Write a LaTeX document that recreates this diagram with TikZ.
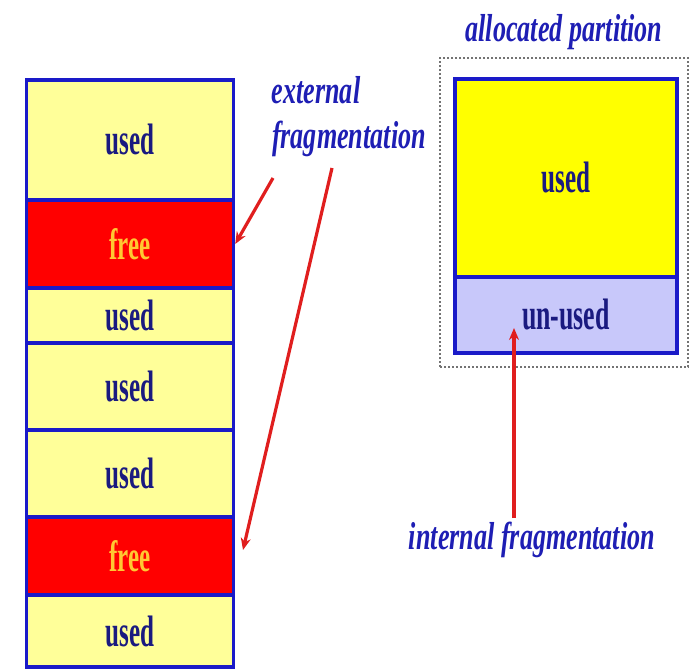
\documentclass[tikz,border=0pt]{standalone}
\usepackage{fontspec}
\usepackage{graphicx}
\setmainfont{Liberation Serif}
\usetikzlibrary{arrows.meta,calc}
\definecolor{paleyel}{HTML}{FFFF99}
\definecolor{brightyel}{HTML}{FFFF00}
\definecolor{freered}{HTML}{FF0000}
\definecolor{lav}{HTML}{C8C8FA}
\definecolor{edgeblue}{HTML}{1A1AC8}
\definecolor{navytext}{HTML}{1A1A80}
\definecolor{labblue}{HTML}{1E1EB4}
\definecolor{freetext}{HTML}{FFC832}
\definecolor{arrred}{HTML}{E01E1E}
\newcommand{\blocktxt}[1]{{\fontsize{44}{44}\selectfont\bfseries\scalebox{0.57}[1]{#1}}}
\newcommand{\labtxt}[1]{{\fontsize{39}{39}\selectfont\bfseries\itshape\scalebox{0.67}[1]{#1}}}
\tikzset{
  blk/.style={draw=edgeblue, line width=3.5pt, inner sep=0pt, minimum width=207pt},
  usedblk/.style={blk, fill=paleyel, text=navytext},
  freeblk/.style={blk, fill=freered, text=freetext},
  lab/.style={text=labblue, inner sep=0pt},
  redarrow/.style={draw=arrred, line width=3.2pt, -{Stealth[length=12pt,width=10pt]}},
}
\begin{document}
\begin{tikzpicture}[x=1pt,y=-1pt]
\useasboundingbox (0,0) rectangle (691,669);
% left column
\node[usedblk, minimum height=120pt] (u1) at (130,140) {\blocktxt{used}};
\node[freeblk, minimum height=88pt] (f1) at (130,244) {\blocktxt{free}};
\node[usedblk, minimum height=55pt] (u2) at (130,315.5) {\blocktxt{used}};
\node[usedblk, minimum height=87pt] (u3) at (130,386.5) {\blocktxt{used}};
\node[usedblk, minimum height=87pt] (u4) at (130,473.5) {\blocktxt{used}};
\node[freeblk, minimum height=78pt] (f2) at (130,556) {\blocktxt{free}};
\node[usedblk, minimum height=72pt] (u5) at (130,631) {\blocktxt{used}};
% right partition
\node[draw=black!55, line width=2.5pt, dash pattern=on 2pt off 2pt, minimum width=248pt, minimum height=309pt, inner sep=0pt] (part) at (564,212.5) {};
\node[draw=edgeblue, line width=3.5pt, fill=brightyel, text=navytext, minimum width=222pt, minimum height=198pt, inner sep=0pt] (pu) at (566,178) {\blocktxt{used}};
\node[draw=edgeblue, line width=3.5pt, fill=lav, text=navytext, minimum width=222pt, minimum height=76pt, inner sep=0pt] (pn) at (566,315) {\scalebox{1.03}[1]{\blocktxt{un-used}}};
% labels
\node[lab] (palloc) at (564,32) {\labtxt{allocated partition}};
\node[lab] (ext1) at (316,90) {\labtxt{external}};
\node[lab] (ext2) at (349,139) {\labtxt{fragmentation}};
\node[lab] (intl) at (532,540) {\labtxt{internal fragmentation}};
% arrows
\coordinate (a1s) at (273,178);
\coordinate (a2s) at (332,168);
\coordinate (a2e) at (243,550);
\coordinate (a3s) at (514,518);
\coordinate (a3e) at (514,328);
\draw[redarrow] (a1s) -- (f1.east);
\draw[redarrow] (a2s) -- (a2e);
\draw[redarrow] (a3s) -- (a3e);
\end{tikzpicture}
\end{document}
